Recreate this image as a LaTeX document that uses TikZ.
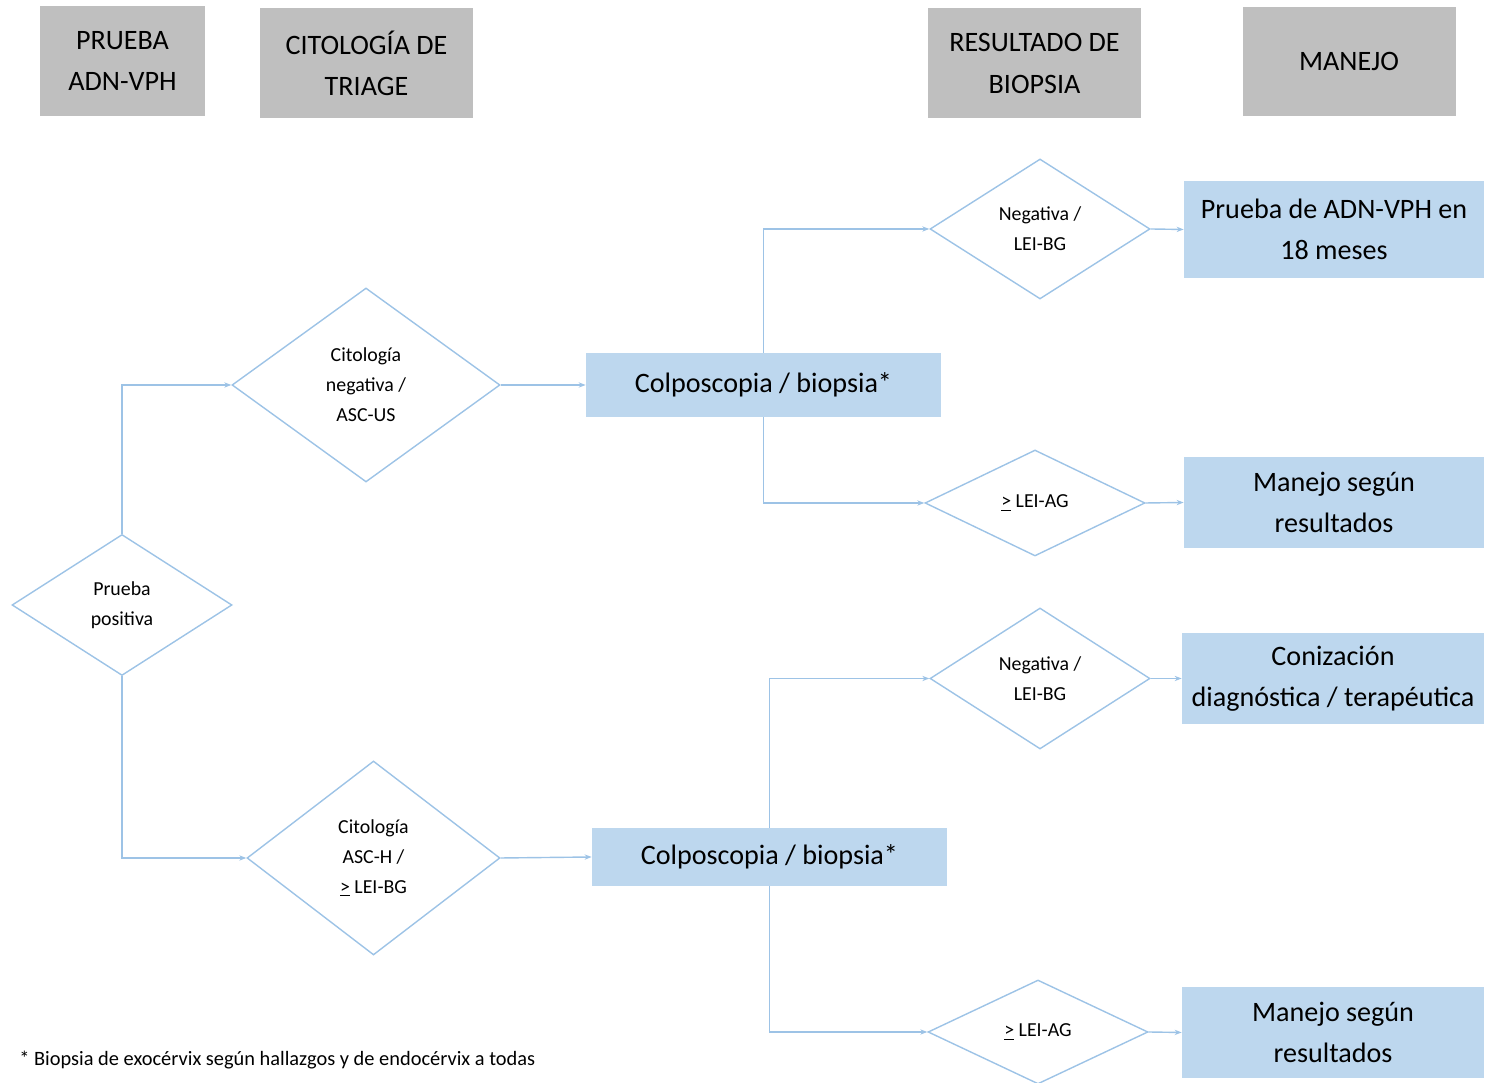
\documentclass[tikz,border=0pt]{standalone}
\usepackage{fontspec}
\setmainfont{Carlito}
\usepackage{xcolor}
\usepackage{tikz}
\usetikzlibrary{arrows.meta,positioning,shapes.geometric}
\definecolor{headgray}{RGB}{191,191,191}
\definecolor{boxblue}{RGB}{189,215,238}
\definecolor{lineblue}{RGB}{157,195,230}

\begin{document}
\begin{tikzpicture}[
  head/.style={rectangle,fill=headgray,minimum width=4.26cm,minimum height=2.2cm,
               align=center,inner sep=0pt,font=\fontsize{16}{23.5}\selectfont},
  dec/.style={diamond,draw=lineblue,line width=0.8pt,inner sep=0pt,align=center,
              font=\fontsize{11.3}{17}\selectfont},
  act/.style={rectangle,fill=boxblue,minimum width=6cm,minimum height=1.82cm,
              align=center,inner sep=0pt,font=\fontsize{16}{23.5}\selectfont},
  ar/.style={-{Stealth[length=4pt,width=3pt]},line width=0.8pt,lineblue}
]
\useasboundingbox (0,0) rectangle (29.74,21.66);

% column headers
\node[head,minimum width=3.3cm] (hprueba) at (2.45,20.44) {PRUEBA\\ADN-VPH};
\node[head] (htriage) at (7.33,20.39) {CITOLOGÍA DE\\TRIAGE};
\node[head] (hbiopsia) at (20.69,20.39) {RESULTADO DE\\BIOPSIA};
\node[head,minimum height=2.18cm] (hmanejo) at (26.98,20.43) {MANEJO};

% decisions
\node[dec,minimum width=4.4cm,minimum height=2.82cm] (pos) at (2.44,9.56) {Prueba\\positiva};
\node[dec,minimum width=5.36cm,minimum height=3.88cm] (cneg) at (7.32,13.96) {Citología\\negativa /\\ASC-US};
\node[dec,minimum width=5.06cm,minimum height=3.88cm] (chigh) at (7.47,4.50) {Citología\\ASC-H /\\\underline{>} LEI-BG};

\node[act,minimum width=7.1cm,minimum height=1.28cm] (colpa) at (15.27,13.96) {Colposcopia / biopsia*};
\node[act,minimum width=7.1cm,minimum height=1.16cm] (colpb) at (15.39,4.52) {Colposcopia / biopsia*};

\node[dec,minimum width=4.4cm,minimum height=2.8cm] (rnega) at (20.80,17.08) {Negativa /\\LEI-BG};
\node[dec,minimum width=4.4cm,minimum height=2.12cm] (raga) at (20.70,11.60) {\underline{>} LEI-AG};
\node[dec,minimum width=4.4cm,minimum height=2.82cm] (rnegb) at (20.80,8.09) {Negativa /\\LEI-BG};
\node[dec,minimum width=4.4cm,minimum height=2.08cm] (ragb) at (20.76,1.02) {\underline{>} LEI-AG};

% management
\node[act,minimum height=1.94cm] (mcontrol) at (26.68,17.07) {Prueba de ADN-VPH en\\18 meses};
\node[act] (mseguna) at (26.68,11.61) {Manejo según\\resultados};
\node[act,minimum width=6.04cm] (mcono) at (26.66,8.09) {Conización\\diagnóstica / terapéutica};
\node[act,minimum width=6.04cm] (msegunb) at (26.66,1.01) {Manejo según\\resultados};

\draw[ar] (pos.north) |- (cneg.west);
\draw[ar] (pos.south) |- (chigh.west);
\draw[ar] (cneg.east) -- (colpa.west);
\draw[ar] (chigh.east) -- (colpb.west);

\draw[ar] (colpa.north) |- (rnega.west);
\draw[ar] (colpa.south) |- (raga.west);
\draw[ar] (colpb.north) |- (rnegb.west);
\draw[ar] (colpb.south) |- (ragb.west);

\draw[ar] (rnega.east) -- (mcontrol.west);
\draw[ar] (raga.east) -- (mseguna.west);
\draw[ar] (rnegb.east) -- (mcono.west);
\draw[ar] (ragb.east) -- (msegunb.west);

\node[anchor=west,inner sep=0pt,font=\fontsize{11.6}{13}\selectfont] (nota) at (0.38,0.45)
  {* Biopsia de exocérvix según hallazgos y de endocérvix a todas};
\end{tikzpicture}
\end{document}
